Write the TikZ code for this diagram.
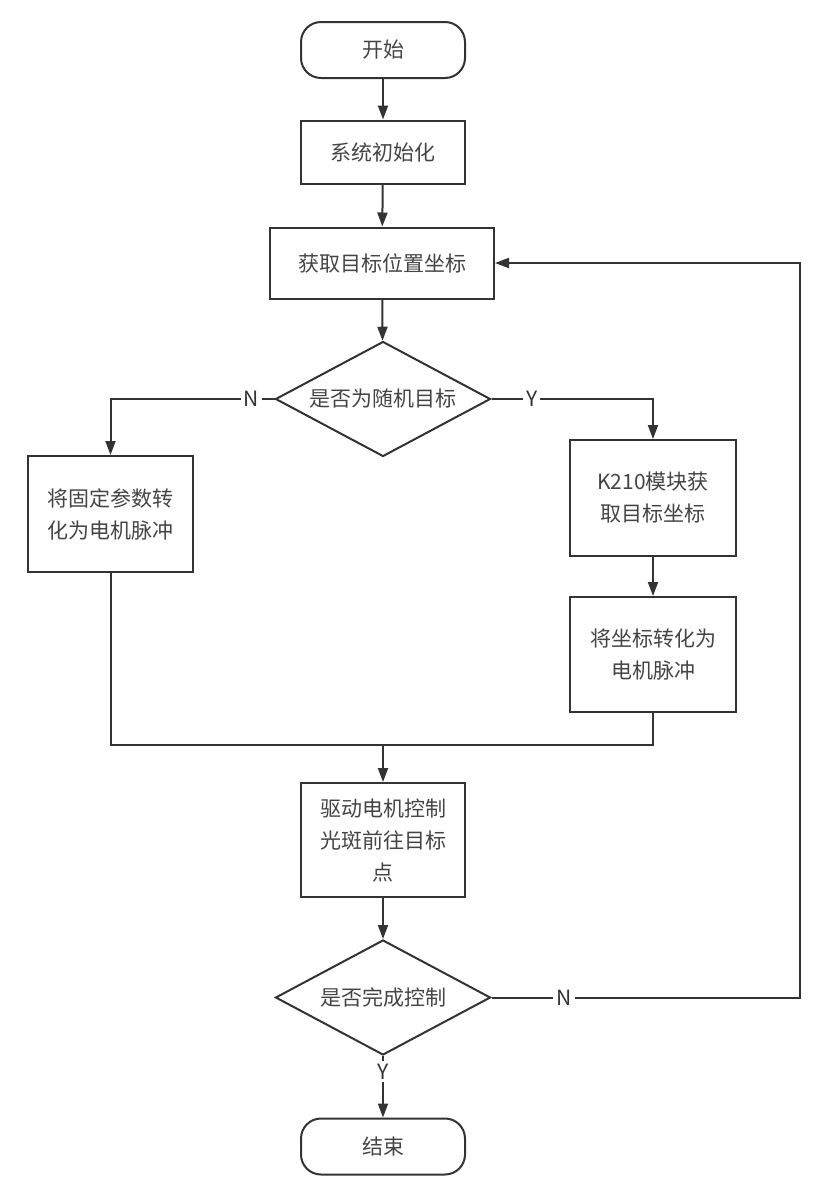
\documentclass[tikz,border=0pt]{standalone}
\usepackage{fontspec}
\newfontfamily\cjk{Noto Sans CJK SC}
\usepackage{tikz}
\usetikzlibrary{shapes.geometric,arrows.meta}
\definecolor{lineGray}{HTML}{333333}
\definecolor{textGray}{HTML}{444444}
\tikzset{
    startStop/.style={draw=lineGray, line width=2pt, rounded corners=20pt,
        minimum width=164pt, minimum height=56pt, text=textGray},
    procBox/.style={draw=lineGray, line width=2pt, align=center, text=textGray},
    decBox/.style={draw=lineGray, line width=2pt, diamond, aspect=1.87, inner sep=0pt,
        minimum width=215pt, minimum height=115pt, text=textGray},
    yesNo/.style={fill=white, inner sep=3pt, text=lineGray},
    flowArrow/.style={draw=lineGray, line width=2pt, -{Triangle[length=14pt,width=10pt]}},
    flowLine/.style={draw=lineGray, line width=2pt}
}
\begin{document}
\begin{tikzpicture}[x=1pt, y=-1pt, font=\cjk\fontsize{21}{32}\selectfont]
    \useasboundingbox (0,0) rectangle (818,1203);
    % main column
    \node[startStop] (start) at (383,50) {开始};
    \node[procBox, minimum width=164pt, minimum height=63pt] (init) at (383,152) {系统初始化};
    \node[procBox, minimum width=224pt, minimum height=71pt] (getPos) at (382,263) {获取目标位置坐标};
    \node[decBox] (isRandom) at (383,399) {是否为随机目标};
    % branches
    \node[procBox, minimum width=165pt, minimum height=116pt] (fixedPulse) at (110.5,514) {将固定参数转\\化为电机脉冲};
    \node[procBox, minimum width=166pt, minimum height=116pt] (kModule) at (653,498) {K210模块获\\取目标坐标};
    \node[procBox, minimum width=166pt, minimum height=115pt] (coordPulse) at (653,654.5) {将坐标转化为\\电机脉冲};
    \coordinate (mergePt) at (383,745);
    \node[procBox, minimum width=164pt, minimum height=114pt] (drive) at (383,840) {驱动电机控制\\光斑前往目标\\点};
    \node[decBox] (isDone) at (383,997.5) {是否完成控制};
    \node[startStop] (stop) at (383,1146.5) {结束};
    \coordinate (loopCorner) at (800,997.5);

    \draw[flowArrow] (start) -- (init);
    \draw[flowArrow] (init) -- (getPos);
    \draw[flowArrow] (getPos) -- (isRandom);
    \draw[flowArrow] (isRandom.west) -| node[yesNo, pos=0.07] {N} (fixedPulse.north);
    \draw[flowArrow] (isRandom.east) -| node[yesNo, pos=0.125] {Y} (kModule.north);
    \draw[flowArrow] (kModule) -- (coordPulse);
    \draw[flowLine] (fixedPulse.south) |- (mergePt);
    \draw[flowLine] (coordPulse.south) |- (mergePt);
    \draw[flowArrow] (mergePt) -- (drive.north);
    \draw[flowArrow] (drive) -- (isDone);
    \draw[flowArrow] (isDone.east) -- node[yesNo, pos=0.235] {N} (loopCorner) |- (getPos.east);
    \draw[flowArrow] (isDone.south) -- node[yesNo, pos=0.25] {Y} (stop.north);
\end{tikzpicture}
\end{document}
